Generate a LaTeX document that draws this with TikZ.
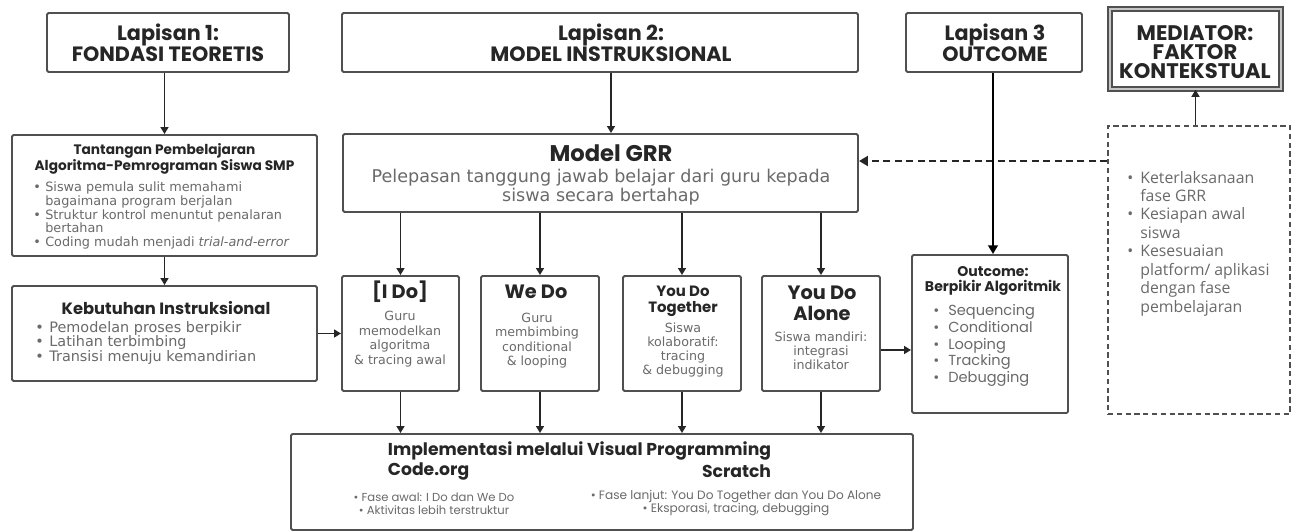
\documentclass[tikz,border=0pt]{standalone}
\usepackage{fontspec}
\setmainfont{DejaVu Sans}
\newfontfamily\headfont{Poppins}
\newfontfamily\listfont{Open Sans}
\usepackage{tikz}
\usetikzlibrary{arrows.meta, calc, positioning, fit}

\definecolor{framegray}{HTML}{505050}
\definecolor{inkdark}{HTML}{262626}
\definecolor{softgray}{HTML}{6A6A6A}

\newcommand{\hd}[2]{\headfont\bfseries\fontsize{#1}{#2}\selectfont}
\newcommand{\bd}[2]{\fontsize{#1}{#2}\selectfont}
\newcommand{\bul}[1]{\makebox[#1][l]{\textbullet}}
\newcommand{\ind}[1]{\hspace*{#1}}

\tikzset{
  box/.style={draw=framegray, line width=1.1pt, inner sep=0pt, rounded corners=0.8pt},
  txt/.style={inner sep=0pt, align=center},
  head/.style={txt, text=inkdark},
  body/.style={txt, text=softgray},
  link/.style={draw=inkdark, line width=1pt, -{Triangle[length=4pt, width=4.5pt]}},
}

\begin{document}
\begin{tikzpicture}[x=0.02cm, y=-0.02cm]
    \fill[white] (0,0) rectangle (1291,531);
    \useasboundingbox (0,0) rectangle (1291,531);

    % Lapisan
    \node[box, fit={(47,13) (289,72)}] (lap1) {};
    \node[head, font=\hd{11.8}{12}] (lap1txt) at (168,42.5) {Lapisan 1:\\FONDASI TEORETIS};
    \node[box, fit={(342,13) (858,72)}] (lap2) {};
    \node[head, font=\hd{11.8}{12}] (lap2txt) at (611,42.5) {Lapisan 2:\\MODEL INSTRUKSIONAL};
    \node[box, fit={(906,13) (1082,72)}] (lap3) {};
    \node[head, font=\hd{11.8}{12}] (lap3txt) at (995,42.5) {Lapisan 3\\OUTCOME};

    % Mediator
    \node[draw=framegray, line width=0.9pt, double=gray!45, double distance=1.6pt,
          inner sep=0pt, fit={(1110,9) (1281,89)}] (med) {};
    \node[head, font=\hd{12}{11}] (medtxt) at (1195,52) {MEDIATOR:\\FAKTOR\\KONTEKSTUAL};
    \node[draw=framegray, line width=0.8pt, densely dashed, inner sep=0pt,
          fit={(1108,126) (1290,414)}] (medlist) {};
    \node[txt, align=left, anchor=west, text=softgray, font=\listfont\bd{9}{10.5}] (medpts) at (1127,243.5)
        {\bul{7.4pt}Keterlaksanaan\\\ind{7.4pt}fase GRR\\\bul{7.4pt}Kesiapan awal\\\ind{7.4pt}siswa\\
         \bul{7.4pt}Kesesuaian\\\ind{7.4pt}platform/ aplikasi\\\ind{7.4pt}dengan fase\\\ind{7.4pt}pembelajaran};

    % Fondasi
    \node[box, fit={(12,135) (317,256)}] (tant) {};
    \node[head, font=\hd{7.8}{6.5}] (tanttxt) at (164.5,159) {Tantangan Pembelajaran\\Algoritma-Pemrograman Siswa SMP};
    \node[txt, align=left, anchor=west, text=softgray, font=\bd{7.3}{7.8}] (tantpts) at (33,215.5)
        {\bul{6.8pt}Siswa pemula sulit memahami\\\ind{6.8pt}bagaimana program berjalan\\
         \bul{6.8pt}Struktur kontrol menuntut penalaran\\\ind{6.8pt}bertahan\\
         \bul{6.8pt}Coding mudah menjadi \textit{trial-and-error}};
    \node[box, fit={(12,286) (317,381)}] (keb) {};
    \node[head, font=\hd{9.3}{10}] (kebtxt) at (166,308) {Kebutuhan Instruksional};
    \node[txt, align=left, anchor=west, text=softgray, font=\bd{8.2}{8.5}] (kebpts) at (35,343)
        {\bul{8pt}Pemodelan proses berpikir\\\bul{8pt}Latihan terbimbing\\\bul{8pt}Transisi menuju kemandirian};

    % Model GRR
    \node[box, fit={(343,134) (858,212)}] (grr) {};
    \node[head, font=\hd{12.9}{14}] (grrtxt) at (611,153) {Model GRR};
    \node[body, font=\bd{10}{8.8}] (grrsub) at (601,187.5) {Pelepasan tanggung jawab belajar dari guru kepada\\siswa secara bertahap};

    % Fase GRR
    \node[box, fit={(342,276) (459,391)}] (ido) {};
    \node[head, font=\hd{11}{12}] at (400,292) {[I Do]};
    \node[body, font=\bd{7.2}{8.3}] at (400,339) {Guru\\memodelkan\\algoritma\\\& tracing awal};
    \node[box, fit={(481,276) (599,391)}] (wedo) {};
    \node[head, font=\hd{11}{12}] at (536,292) {We Do};
    \node[body, font=\bd{7.2}{8.3}] at (537,340.5) {Guru\\membimbing\\conditional\\\& looping};
    \node[box, fit={(623,276) (741,391)}] (ydt) {};
    \node[head, font=\hd{8.5}{9}] at (683,301) {You Do\\Together};
    \node[body, font=\bd{7.2}{8.1}] at (683,350) {Siswa\\kolaboratif:\\tracing\\\& debugging};
    \node[box, fit={(762,276) (880,391)}] (yda) {};
    \node[head, font=\hd{11}{12}] at (822,303.5) {You Do\\Alone};
    \node[body, font=\bd{7.2}{8}] at (821,351) {Siswa mandiri:\\integrasi\\indikator};

    % Outcome
    \node[box, fit={(912,255) (1068,413)}] (outc) {};
    \node[head, font=\hd{8}{8.5}] (outctxt) at (993,280.5) {Outcome:\\Berpikir Algoritmik};
    \node[txt, align=left, anchor=west, text=softgray, font=\headfont\bd{8.3}{9.5}] (outcpts) at (933,345.5)
        {\bul{8.5pt}Sequencing\\\bul{8.5pt}Conditional\\\bul{8.5pt}Looping\\\bul{8.5pt}Tracking\\\bul{8.5pt}Debugging};

    % Implementasi
    \node[box, fit={(291,434) (913,530)}] (impl) {};
    \node[head, font=\hd{9.8}{11}] (impltxt) at (579.5,451) {Implementasi melalui Visual Programming};
    \node[head, font=\hd{9.8}{11}, anchor=west] (codeorg) at ([yshift=-0.4cm]impltxt.west) {Code.org};
    \node[head, font=\hd{9.8}{11}, anchor=east] (scratch) at ([yshift=-0.4cm]impltxt.east) {Scratch};
    \node[body, text=softgray, font=\headfont\bd{6.6}{7.4}] at (434,503.5) {\textbullet\ Fase awal: I Do dan We Do\\\textbullet\ Aktivitas lebih terstruktur};
    \node[body, text=softgray, font=\headfont\bd{6.9}{7.4}] at (736,503.5) {\textbullet\ Fase lanjut: You Do Together dan You Do Alone\\\textbullet\ Eksporasi, tracing, debugging};

    % Panah
    \draw[link] (lap1.south -| tant.north) -- (tant.north);
    \draw[link] (tant.south) -- (keb.north);
    \draw[link] (keb.east) -- (ido.west);
    \draw[link] (lap2.south -| grrtxt) -- (grr.north -| grrtxt);
    \foreach \f in {ido, wedo, ydt, yda} {
        \draw[link] (grr.south -| \f.north) -- (\f.north);
        \draw[link] (\f.south) -- (\f.south |- impl.north);
    }
    \draw[link] ([yshift=-0.33cm]yda.east) -- ([yshift=-0.33cm]yda.east -| outc.west);
    \coordinate (dashy) at (0,161);
    \coordinate (outx) at (993,0);
    \draw[draw=inkdark, line width=1.6pt, dash pattern=on 4pt off 2.5pt, -{Triangle[length=5pt, width=5.5pt]}]
        (medlist.west |- dashy) -- (grr.east |- dashy);
    \draw[draw=black, line width=1.5pt, -{Triangle[length=5pt, width=5.5pt]}] (lap3.south -| outx) -- (outc.north -| outx);
    \draw[link] (med.south |- medlist.north) -- (med.south);
\end{tikzpicture}
\end{document}
